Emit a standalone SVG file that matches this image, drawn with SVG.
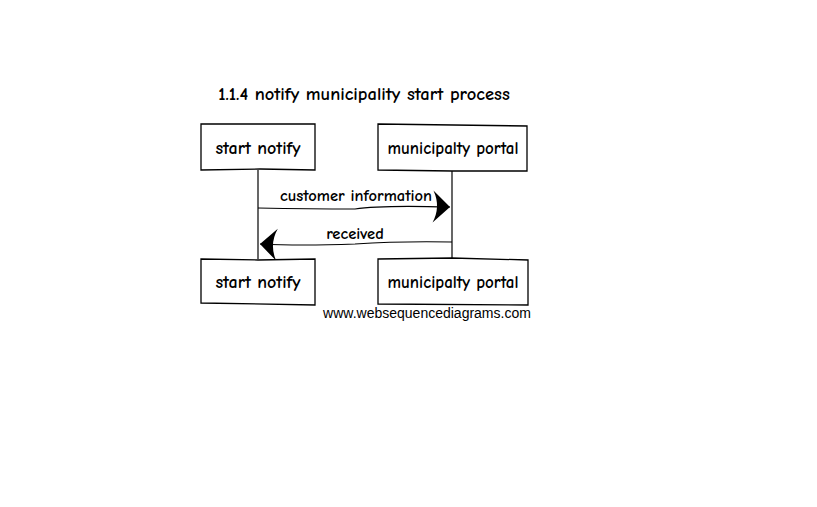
<svg xmlns="http://www.w3.org/2000/svg" width="817" height="507" viewBox="0 0 817 507">
<style>
.box{fill:#fff;stroke:#000;stroke-width:1.3}
.t{font-family:"Comic Neue","Liberation Sans",sans-serif;font-size:16.5px;fill:#000;text-anchor:middle;font-weight:bold}
.line{stroke:#000;stroke-width:1.2;fill:none}
</style>
<defs>
<marker id="ah" markerWidth="20" markerHeight="34" refX="18" refY="17" orient="auto" markerUnits="userSpaceOnUse">
<path d="M18,17 L1,1 Q9,17 1,33 Z" fill="#000"/>
</marker>
</defs>
<rect width="817" height="507" fill="#fff"/>
<text x="364" y="100" class="t" style="font-size:18.5px">1.1.4 notify municipality start process</text>
<g id="lifelines">
<path class="line" d="M258,170 L258,259"/>
<path class="line" d="M452,171 L452,258"/>
</g>
<g id="connectors">
<path class="line" d="M258,208 Q310,209 355,209 Q380,205 450,207" marker-end="url(#ah)"/>
<text x="356" y="201" class="t">customer information</text>
<path class="line" d="M452,242 Q400,241 355,244 Q300,246 260,244" marker-end="url(#ah)"/>
<text x="355" y="239" class="t">received</text>
</g>
<g id="start-notify-top">
<path class="box" d="M201,124 L315,124 L315,170 L260,169 L201,170 Z"/>
<text x="258" y="154" class="t" style="font-size:18px">start notify</text>
</g>
<g id="portal-top">
<path class="box" d="M378,124 L527,126 L527,171 L452,171 L378,170 Z"/>
<text x="453" y="154" class="t" style="font-size:17px">municipalty portal</text>
</g>
<g id="start-notify-bottom">
<path class="box" d="M201,259 L258,260 L315,259 L315,305 L201,303 Z"/>
<text x="258" y="288" class="t" style="font-size:18px">start notify</text>
</g>
<g id="portal-bottom">
<path class="box" d="M378,259 L452,258 L528,260 L528,305 L378,304 Z"/>
<text x="453" y="288" class="t" style="font-size:17px">municipalty portal</text>
</g>
<text x="427" y="318" style="font-family:'Liberation Sans',Arial,sans-serif;font-size:14px;fill:#000;text-anchor:middle">www.websequencediagrams.com</text>
</svg>
